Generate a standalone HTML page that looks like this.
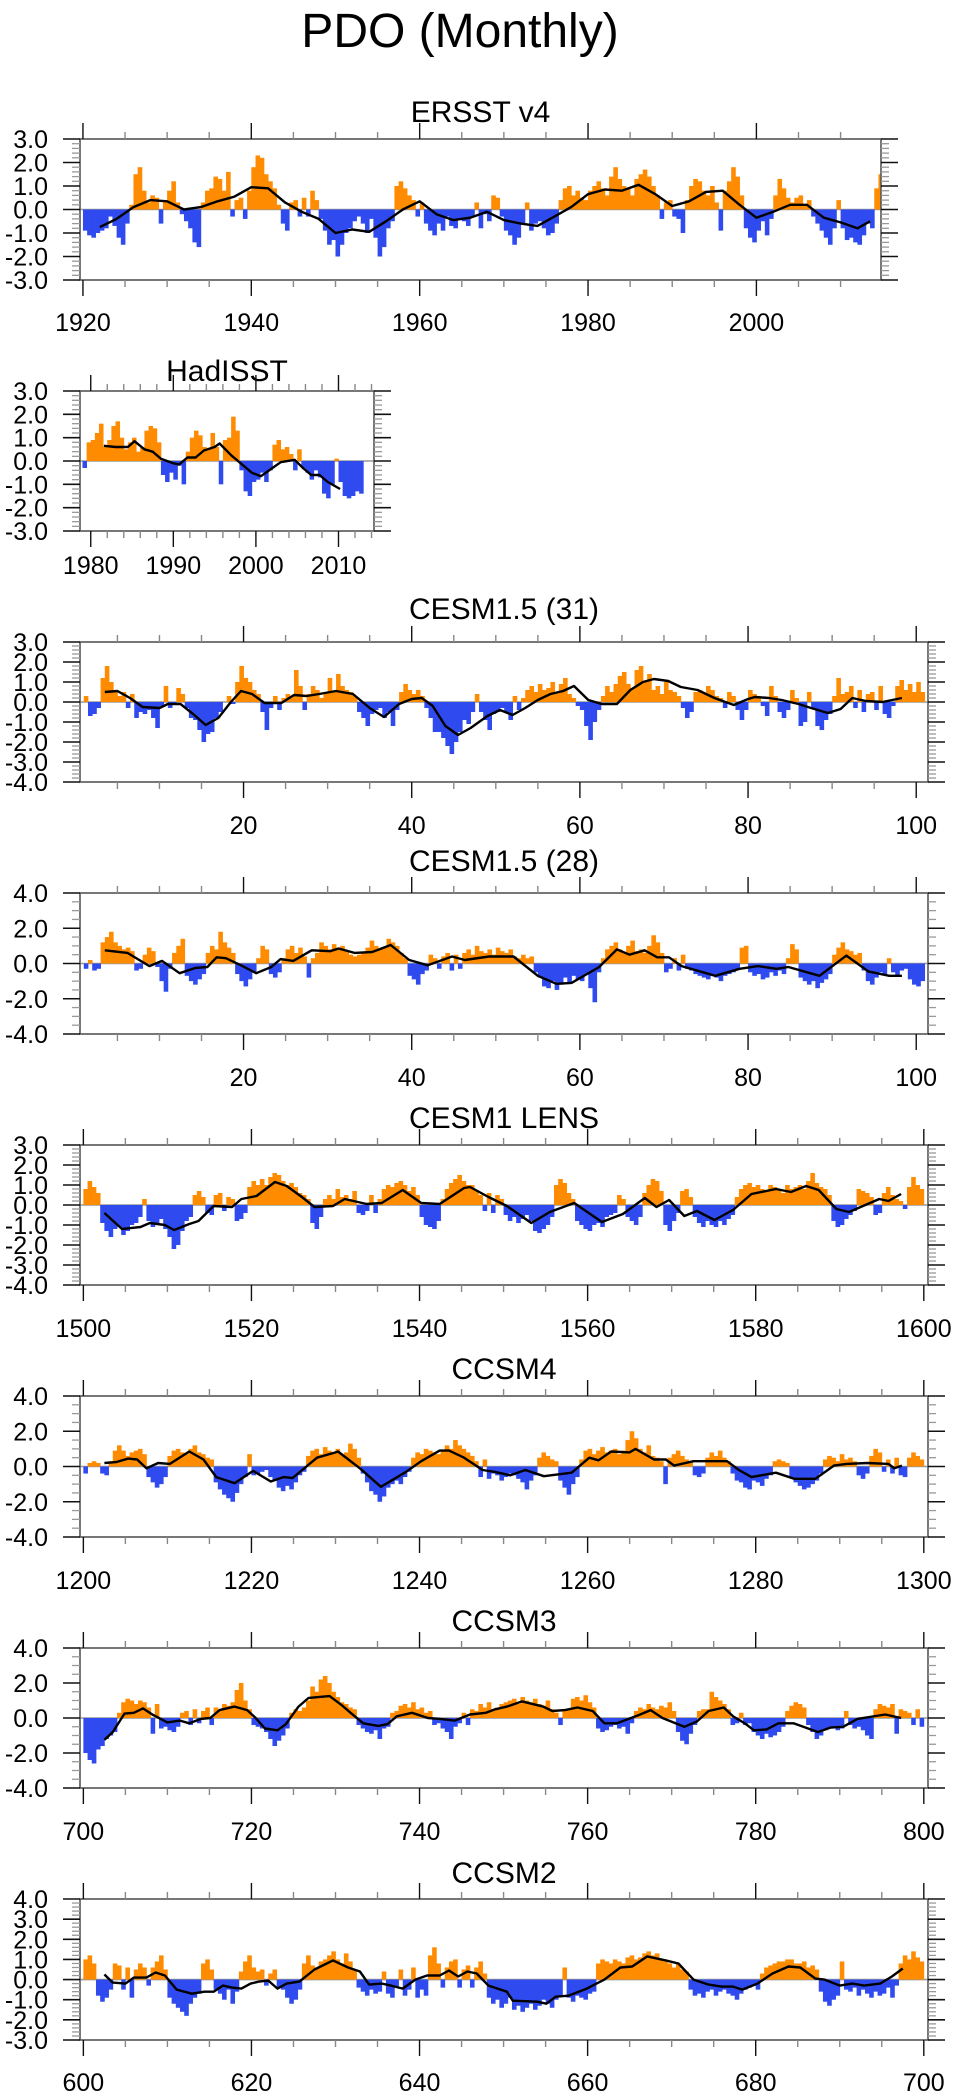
<!DOCTYPE html>
<html><head><meta charset="utf-8"><title>PDO (Monthly)</title>
<style>html,body{margin:0;padding:0;background:#fff;}svg{display:block;font-family:"Liberation Sans",Arial,sans-serif;}</style>
</head><body>
<svg id="chart" xmlns="http://www.w3.org/2000/svg" width="953" height="2099" viewBox="0 0 953 2099">
<rect x="0" y="0" width="953" height="2099" fill="#fff"/>
<text x="460" y="47" font-size="48" text-anchor="middle" fill="#000">PDO (Monthly)</text>
</svg>
<script>
// ---------- DATA (half-year values) ----------
const ersstStart = 1920;
const ersstVals = [-0.9,-1.1,-1.2,-1.0,-0.9,-0.8,-0.3,-0.7,-1.2,-1.5,-0.6,0.2,1.5,1.8,0.8,0.3,0.6,0.5,-0.6,0.4,0.8,1.2,0.3,-0.2,-0.5,-0.8,-1.4,-1.6,0.3,0.8,0.9,1.4,1.3,0.8,1.6,-0.3,0.4,0.5,-0.4,0.8,1.8,2.3,2.2,1.5,1.2,0.9,0.2,-0.6,-0.9,0.3,0.4,-0.3,0.5,-0.3,0.8,0.4,-0.4,-0.9,-1.5,-1.3,-2.0,-1.5,-1.0,-0.8,-0.5,-0.3,-0.6,-1.0,-0.4,-1.2,-2.0,-1.6,-0.8,-0.5,1.0,1.2,0.9,0.6,0.4,-0.3,0.3,-0.6,-0.9,-1.1,-0.6,-0.9,-0.3,-0.7,-0.8,-0.4,-0.5,-0.7,-0.3,0.3,-0.8,-0.2,-0.5,0.6,0.5,-0.3,-0.9,-1.1,-1.5,-1.2,-0.6,0.3,-0.9,-0.6,-0.5,-0.8,-1.1,-1.0,-0.6,0.4,0.9,1.0,0.6,0.8,0.5,0.4,0.8,1.0,1.2,0.9,0.6,1.4,1.8,1.3,1.0,0.9,0.6,1.3,1.5,1.7,1.4,1.0,0.6,-0.4,0.3,0.4,-0.3,-0.4,-1.0,0.4,1.0,1.3,1.2,0.8,0.6,1.0,0.3,-0.9,0.8,1.2,1.8,1.4,0.6,-0.8,-1.2,-1.4,-0.9,-0.5,-1.1,-0.4,0.6,1.3,0.9,0.5,0.3,0.5,0.6,0.2,0.4,-0.3,-0.6,-0.9,-1.2,-1.5,-0.8,0.4,-0.8,-1.3,-1.2,-1.4,-1.5,-1.1,-0.6,-0.8,0.9,1.5];
const ersstSmoothYears = [1922,1924,1926,1928,1930,1932,1934,1936,1938,1940,1942,1944,1946,1948,1950,1952,1954,1956,1958,1960,1962,1964,1966,1968,1970,1972,1974,1976,1978,1980,1982,1984,1986,1988,1990,1992,1994,1996,1998,2000,2002,2004,2006,2008,2010,2012,2013.5];
const ersstSmoothVals = [-0.75,-0.4,0.1,0.4,0.35,0.0,0.1,0.35,0.55,0.95,0.9,0.3,-0.1,-0.4,-1.0,-0.85,-0.95,-0.5,0.0,0.35,-0.2,-0.45,-0.35,-0.1,-0.45,-0.6,-0.7,-0.3,0.1,0.65,0.85,0.8,1.05,0.65,0.15,0.35,0.75,0.8,0.2,-0.35,-0.1,0.2,0.2,-0.35,-0.55,-0.8,-0.5];

const hadStart = 1979;
const hadVals = [-0.3,0.8,0.9,1.2,1.6,0.6,0.9,1.5,1.7,1.0,0.5,0.8,1.0,0.4,0.6,1.3,1.5,1.4,0.8,-0.6,-0.9,-0.5,-0.8,-0.2,-1.0,0.4,1.0,1.3,1.1,0.6,0.5,1.2,0.6,-1.0,0.9,1.0,1.9,1.3,-0.4,-1.3,-1.5,-0.9,-0.8,-0.5,-0.9,-0.4,0.7,0.9,0.5,0.6,0.3,-0.4,0.5,-0.3,-0.5,-0.8,-0.4,-0.7,-1.4,-1.6,-1.0,0.1,-0.9,-1.5,-1.6,-1.5,-1.3,-1.4];
const hadSmoothYears = [1981.6,1983,1984.5,1985.3,1986.5,1987.5,1988.5,1990,1990.7,1991.7,1992.7,1993.7,1995,1995.6,1997,1998.5,1999.5,2000.6,2002,2003,2004.7,2005.7,2006.7,2007.7,2008.7,2010.2];
const hadSmoothVals = [0.65,0.6,0.6,0.85,0.5,0.4,0.1,-0.1,-0.15,0.15,0.15,0.45,0.6,0.75,0.25,-0.2,-0.5,-0.65,-0.3,-0.05,0.05,-0.3,-0.6,-0.6,-0.9,-1.2];

const c31Start = 1;
const c31Vals = [0.3,-0.7,-0.6,-0.3,1.2,1.8,1.0,0.6,0.3,0.5,-0.3,0.4,-0.8,-0.5,-0.6,-0.4,-0.8,-1.3,-0.2,0.8,-0.3,-0.1,0.7,0.4,-0.3,-0.8,-0.9,-1.4,-2.0,-1.6,-1.5,-0.8,-0.5,0.0,0.3,-0.1,1.0,1.8,1.2,1.0,0.6,0.4,-0.5,-1.4,-0.3,0.3,-0.4,0.2,0.4,0.3,1.6,0.8,-0.4,0.4,0.8,0.6,0.2,0.5,1.2,0.5,1.4,0.8,0.6,0.5,0.3,-0.5,-0.8,-1.2,-0.6,-0.4,-0.3,-0.8,-0.5,-1.2,-0.4,0.5,0.9,0.6,0.4,0.6,0.3,-0.3,-0.8,-1.5,-1.5,-1.8,-2.2,-2.6,-2.0,-1.5,-0.9,-1.1,-0.5,0.4,-0.5,-0.9,-1.4,-0.6,-0.5,-0.3,-0.5,-0.9,0.3,-0.4,0.2,0.6,0.8,0.5,0.9,0.6,0.7,1.0,0.5,0.9,1.2,0.4,0.2,-0.2,-0.4,-1.2,-1.9,-1.0,-0.4,0.3,0.8,0.5,0.9,1.3,1.5,0.9,0.7,1.6,1.8,1.0,1.4,0.6,0.8,0.4,1.0,0.6,0.5,0.3,-0.3,-0.8,-0.5,0.5,0.6,0.4,0.8,0.6,0.3,0.2,-0.3,0.5,0.3,-0.4,-0.9,-0.4,0.6,0.4,0.3,-0.2,-0.7,0.8,0.3,-0.5,-0.8,-0.4,0.6,0.2,-1.2,-1.0,0.5,-0.3,-1.2,-1.4,-0.9,-0.6,0.3,1.2,0.4,0.5,0.8,-0.3,0.6,-0.5,0.4,0.5,-0.4,0.8,-0.6,-0.8,-0.2,0.8,1.1,0.6,0.9,0.5,1.0,0.5];
const c31SmoothYears = [3.5,5,6.5,8,10,11,12.5,14,15.5,17,18.5,19.7,21,22.5,24.5,26,27.5,29,31,33,35,36.7,38.5,40,41.2,42.5,44,45.5,47,49,50.5,52,53.5,55,56.5,58,59.3,61,62.6,64.4,66,67.5,68.8,70.5,72,74,76,78.3,80,80.8,82.5,84,86,87.5,89.5,91,92.4,94,96,98.3];
const c31SmoothVals = [0.5,0.55,0.2,-0.25,-0.3,-0.1,-0.1,-0.6,-1.15,-0.8,0.0,0.55,0.4,-0.05,-0.05,0.35,0.3,0.4,0.55,0.4,-0.3,-0.75,-0.1,0.15,0.2,-0.2,-1.2,-1.65,-1.3,-0.7,-0.4,-0.65,-0.3,0.1,0.4,0.55,0.8,0.1,-0.1,-0.1,0.6,1.0,1.15,1.05,0.75,0.6,0.2,-0.15,0.15,0.25,0.2,0.1,-0.1,-0.3,-0.55,-0.35,0.2,0.05,0.0,0.2];

const c28Start = 1;
const c28Vals = [-0.3,0.2,-0.4,-0.3,1.2,1.5,1.8,1.2,1.0,0.8,0.9,0.7,-0.4,-0.3,0.5,0.9,0.7,-0.2,-1.0,-1.6,-0.3,0.6,1.0,1.4,-0.7,-1.0,-1.2,-0.9,-0.6,0.6,1.0,0.8,1.8,1.2,0.9,0.6,-0.6,-1.0,-1.3,-0.9,-0.5,0.3,1.0,0.8,-0.6,-0.8,-0.5,0.3,0.8,1.0,0.6,0.9,0.4,-0.8,0.3,0.6,1.2,1.0,0.8,1.1,0.9,1.0,0.7,0.5,0.4,0.5,0.6,0.9,1.3,1.0,0.8,0.9,1.4,1.2,1.0,0.6,0.3,-0.7,-0.9,-1.2,-0.6,-0.4,0.5,0.3,-0.3,0.4,0.6,-0.4,0.5,-0.3,0.6,0.8,0.5,1.0,0.7,0.6,0.8,0.5,0.9,0.7,0.6,0.8,0.4,0.3,0.5,0.3,0.4,-0.5,-0.8,-1.3,-1.4,-1.0,-1.5,-1.2,-0.8,-1.1,-0.7,-0.9,-1.0,-0.6,-1.4,-2.2,-0.5,0.3,0.8,1.0,1.2,0.8,0.6,1.0,1.3,0.7,0.8,0.6,1.0,1.6,1.2,0.6,-0.5,-0.3,0.3,-0.4,0.5,-0.3,-0.4,-0.6,-0.7,-0.8,-0.9,-0.6,-0.8,-1.0,-0.7,-0.6,-0.5,-0.3,0.9,1.0,-0.5,-0.7,-0.6,-0.9,-0.8,-0.5,-0.7,-0.4,-0.6,0.3,1.1,0.8,-0.8,-1.0,-1.2,-1.0,-1.4,-1.1,-0.9,-0.6,0.5,0.9,1.2,0.8,0.7,0.5,0.6,-0.4,-1.0,-1.2,-0.8,-0.5,-0.6,0.3,-0.5,-0.7,-0.4,-0.3,-0.9,-1.2,-1.3,-1.0];
const c28SmoothYears = [3.5,6.2,8.8,10.3,12.4,14.3,15.7,16.8,17.9,19.7,21.5,23.3,24.4,25.9,28.1,30.3,31.3,33.2,35.3,37.5,39.7,41.9,44.8,46.3,49.2,52.1,55,57.2,59,62.3,64.4,65.9,67.7,69.2,70.6,72.1,76.1,79,81.2,83.4,84.8,88.5,91.7,94.3,96.8,98.3];
const c28SmoothVals = [0.75,0.6,-0.15,0.15,-0.55,-0.25,-0.2,0.35,0.3,-0.1,-0.55,-0.2,0.25,0.15,0.75,0.7,0.85,0.6,0.65,1.05,0.2,-0.1,0.4,0.2,0.4,0.4,-0.7,-1.15,-1.1,-0.2,0.8,0.5,0.75,0.35,0.35,-0.15,-0.7,-0.3,-0.15,-0.3,-0.2,-0.7,0.45,-0.45,-0.7,-0.7];

const lensStart = 1500;
const lensVals = [0.8,1.2,0.9,0.6,-0.9,-1.3,-1.6,-1.2,-1.1,-1.5,-1.3,-1.0,-0.9,-0.6,0.3,-0.8,-1.1,-0.9,-0.7,-1.2,-1.6,-2.2,-2.0,-1.3,-0.8,-0.6,0.5,0.7,0.4,-0.4,-0.5,0.5,0.6,-0.3,0.4,0.3,-0.8,-0.7,-0.4,0.9,1.2,1.0,1.3,1.0,1.4,1.6,1.5,1.2,1.0,1.1,0.9,0.6,0.5,0.3,-0.9,-1.2,-0.6,0.3,0.5,0.3,0.8,0.4,0.5,0.3,0.7,-0.4,-0.5,-0.3,0.5,-0.4,0.3,0.8,1.0,0.9,1.1,1.2,1.0,0.7,0.9,0.5,-0.6,-1.0,-1.1,-1.2,-0.8,0.3,0.8,1.1,1.3,1.5,1.2,1.0,1.0,0.7,0.5,-0.3,0.6,-0.4,0.5,0.3,-0.5,-0.8,-0.6,-0.9,-0.7,-0.5,-0.8,-1.3,-1.4,-1.2,-1.0,-0.6,1.0,1.3,1.1,0.6,0.3,-0.8,-1.0,-1.2,-1.3,-1.0,-0.9,-1.1,-0.6,-0.5,-0.4,0.5,0.3,-0.6,-0.8,-1.0,-0.6,0.6,1.0,1.3,1.2,0.7,-1.0,-1.3,-0.8,-0.4,0.7,0.8,0.4,-0.6,-0.9,-1.1,-0.8,-1.0,-1.1,-0.8,-1.0,-0.7,-0.5,0.4,0.8,1.0,1.1,0.9,1.0,0.8,0.7,1.0,0.9,0.8,0.6,1.0,0.8,0.9,1.0,0.8,1.2,1.6,1.1,0.9,0.8,0.5,-0.8,-1.1,-1.0,-0.7,-0.5,-0.3,0.8,0.7,0.6,0.4,-0.5,-0.4,0.6,0.9,0.5,0.3,0.2,-0.2,0.9,1.4,1.0,0.8];
const lensSmoothYears = [1502.5,1504.6,1506.8,1507.9,1509.7,1510.8,1512.6,1513.7,1515.5,1517.7,1518.8,1520.6,1522.8,1524.2,1526,1527.5,1529.7,1531.1,1533.7,1535.5,1538,1540.2,1542.4,1545.3,1546,1548.2,1550.4,1553.3,1555.5,1558.4,1561.7,1564.2,1566.8,1568.2,1569.7,1571.5,1573,1575.1,1577.3,1579.5,1582.4,1584.2,1586,1587.5,1589.6,1591.1,1594.7,1595.8,1597.3];
const lensSmoothVals = [-0.4,-1.2,-1.1,-0.9,-1.0,-1.25,-0.95,-0.8,-0.05,-0.1,0.3,0.45,1.15,0.95,0.4,-0.1,-0.05,0.3,0.05,0.1,0.75,0.1,0.05,0.85,0.9,0.4,-0.05,-0.9,-0.35,0.1,-0.85,-0.45,0.35,-0.1,0.25,-0.55,-0.3,-0.75,-0.25,0.55,0.8,0.65,0.95,0.75,-0.2,-0.35,0.3,0.2,0.55];

const ccsm4Start = 1200;
const ccsm4Vals = [-0.4,0.2,0.3,0.2,-0.4,-0.5,0.3,0.9,1.2,0.9,0.6,0.8,0.9,1.0,0.7,-0.6,-0.9,-1.2,-1.0,-0.6,0.6,0.9,1.0,0.8,0.7,1.0,1.2,0.8,0.7,0.5,0.4,-0.9,-1.3,-1.6,-1.8,-2.0,-1.5,-1.0,-0.6,0.7,-0.5,-0.4,-0.3,-0.2,-0.6,-0.8,-1.2,-1.4,-1.1,-1.3,-0.9,-0.5,-0.3,0.6,0.9,1.0,0.7,1.1,0.9,0.8,1.0,0.7,0.8,1.3,1.0,0.5,-0.4,-0.9,-1.4,-1.6,-2.0,-1.7,-1.2,-1.0,-0.8,-1.0,-0.6,-0.3,0.5,0.8,0.7,1.0,0.9,0.8,0.7,0.9,1.2,1.0,1.5,1.2,1.0,0.8,0.6,0.3,-0.6,0.4,-0.7,-0.4,-0.5,-0.8,-0.6,-0.4,-0.5,-0.7,-0.9,-1.3,-0.8,-0.5,0.5,0.8,0.6,0.4,0.3,-0.8,-1.2,-1.6,-1.0,-0.6,0.4,0.9,1.0,0.7,0.9,1.1,0.8,0.9,1.0,0.7,0.9,1.5,2.0,1.6,1.0,0.8,1.2,0.6,0.5,0.3,-1.0,0.5,0.7,0.9,0.6,0.4,0.3,-0.5,-0.6,-0.4,0.5,0.8,0.6,0.9,0.5,0.3,-0.4,-0.8,-0.9,-1.2,-1.3,-0.8,-0.9,-1.1,-0.7,-0.5,0.3,0.4,0.3,0.2,-0.6,-0.9,-1.1,-1.3,-1.2,-1.0,-0.8,-0.4,0.4,0.6,0.5,0.3,0.7,0.4,0.5,0.3,-0.5,-0.7,-0.4,0.6,1.0,0.8,-0.3,0.4,-0.4,0.5,-0.5,-0.6,0.5,0.8,0.6,0.4];
const ccsm4SmoothYears = [1202.5,1203.9,1205.3,1206.4,1207.5,1208.9,1210.3,1212.6,1214.3,1215.8,1218,1220.2,1222.3,1223.8,1224.9,1227.8,1230,1230.3,1232.9,1235.4,1238.4,1240.2,1242.4,1243.5,1245.3,1247.5,1248.9,1250.8,1252.6,1254.8,1258.1,1260.2,1261.3,1262.8,1265,1265.7,1267.9,1269.3,1270.3,1272.6,1275.1,1276.6,1278,1279.5,1282.4,1284.6,1287.1,1289.3,1290.8,1293.3,1295.8,1296.5,1297.4];
const ccsm4SmoothVals = [0.2,0.25,0.45,0.4,-0.1,0.2,0.15,0.85,0.4,-0.6,-0.95,-0.25,-0.85,-0.6,-0.65,0.5,0.8,0.85,-0.1,-1.15,-0.3,0.3,0.9,0.9,0.5,-0.2,-0.3,-0.5,-0.2,-0.55,-0.35,0.5,0.35,0.85,0.8,1.0,0.4,0.4,0.05,0.3,0.3,0.3,-0.2,-0.6,-0.35,-0.7,-0.7,0.05,0.15,0.2,0.15,-0.1,0.05];

const ccsm3Start = 700;
const ccsm3Vals = [-2.0,-2.4,-2.6,-1.8,-1.6,-1.2,-1.0,-0.8,0.3,0.9,1.1,1.0,0.8,1.0,0.9,0.6,-0.9,0.8,-0.6,-0.5,-0.7,-0.8,-0.5,0.3,0.4,-0.4,0.5,-0.3,0.4,0.6,-0.4,0.6,0.5,0.8,0.7,0.9,1.6,2.0,1.0,0.5,-0.4,-0.5,-0.6,-0.8,-1.2,-1.6,-1.3,-1.0,-0.6,0.3,0.5,0.4,0.6,1.0,1.8,1.5,2.2,2.4,2.0,1.5,1.2,0.9,0.8,0.6,0.5,-0.4,-0.6,-0.8,-0.9,-0.7,-1.2,-0.6,-0.5,0.3,0.4,0.7,0.8,0.6,0.9,0.5,0.6,0.3,0.4,-0.4,-0.3,-0.6,-0.8,-1.2,-0.5,-0.3,0.3,-0.4,0.5,0.4,0.8,0.6,0.9,0.5,0.6,0.8,0.9,1.0,1.1,0.8,1.2,1.0,0.9,1.1,0.8,0.7,1.0,0.5,0.3,-0.4,0.4,0.5,1.1,1.2,1.0,1.3,0.9,0.6,-0.6,-0.8,-0.7,-0.5,-0.4,-0.6,-0.5,-0.9,-0.3,0.4,0.6,0.5,0.8,0.6,0.5,0.7,0.6,0.9,0.4,-0.8,-1.3,-1.5,-0.9,-0.4,0.4,0.5,0.5,1.5,1.2,1.0,0.8,0.5,-0.4,-0.3,0.3,-0.4,-0.3,-0.8,-1.0,-1.2,-0.9,-1.1,-1.0,-0.8,-0.5,0.4,0.7,0.9,0.8,0.6,-0.4,-0.8,-1.2,-1.0,-0.7,-0.6,-0.5,-0.7,-0.6,0.4,-0.4,-0.6,-0.5,-0.7,-1.0,-1.2,0.5,0.8,0.7,0.6,0.8,-0.9,0.5,0.4,0.3,-0.4,0.5,-0.5];
const ccsm3SmoothYears = [702.5,703.5,704.9,706,707.1,708.2,710,711.5,712.6,714,715.1,716.2,718,719.5,720.5,721.6,723.1,724.1,725.6,726.8,729.3,730.7,731.8,733.3,735.1,736.2,737.3,739.1,741,742.4,744.2,746,747.9,749,750.4,752.2,754.7,755.8,757.3,758.8,760.6,762,763.5,766,767.5,768.9,771.5,773,774.4,776.2,777.3,778.7,779.8,781.3,782.7,784.5,787.4,788.9,790.4,792.1,795.4,797.3];
const ccsm3SmoothVals = [-1.25,-0.8,0.25,0.3,0.55,0.2,-0.25,-0.15,-0.3,-0.05,0.0,0.45,0.65,0.45,0.0,-0.6,-0.7,-0.35,0.65,1.15,1.25,0.75,0.3,-0.3,-0.45,-0.35,0.1,0.3,0.0,-0.05,-0.15,0.2,0.3,0.5,0.65,0.95,0.65,0.4,0.45,0.6,0.4,-0.3,-0.3,0.15,0.45,0.0,-0.5,-0.2,0.4,0.6,0.1,-0.3,-0.7,-0.65,-0.3,-0.3,-0.8,-0.55,-0.5,-0.05,0.2,0.0];

const ccsm2Start = 600;
const ccsm2Vals = [1.0,1.2,0.8,-0.8,-1.1,-0.9,-0.5,0.8,0.7,-0.5,0.6,-0.9,0.5,0.8,0.6,-0.3,0.6,0.9,1.2,0.5,-0.9,-1.2,-1.4,-1.6,-1.8,-1.2,-0.9,-0.7,0.8,1.0,0.5,-0.5,-0.7,-1.0,-0.5,-1.2,-0.6,0.4,0.9,1.2,0.6,0.4,0.5,-0.3,0.3,0.5,-0.4,-0.5,-0.9,-1.2,-1.0,-0.5,0.8,1.2,0.7,0.6,0.9,1.0,1.2,1.4,1.0,0.8,1.3,0.9,0.5,-0.4,-0.6,-0.8,-0.5,-0.7,-0.6,0.4,-0.7,-0.9,-0.4,0.5,-0.8,-0.5,0.6,-0.9,-0.5,-0.8,1.2,1.6,0.8,-0.4,0.6,0.9,1.0,-0.4,0.5,0.7,-0.4,0.6,0.9,0.3,-0.9,-1.2,-1.0,-1.4,-1.2,-0.9,-1.5,-1.3,-1.6,-1.4,-1.2,-1.5,-1.3,-1.0,-1.2,-1.4,-1.0,-0.8,0.6,-0.9,-1.1,-0.8,-0.9,-1.0,-0.7,-0.6,0.8,1.0,0.9,0.8,1.0,0.9,0.8,1.1,1.2,1.0,1.1,1.3,1.4,1.2,1.3,1.0,0.9,0.8,0.6,0.8,0.5,0.4,-0.5,-0.8,-0.7,-0.9,-0.6,-0.5,-0.8,-0.6,-0.5,-0.7,-0.8,-1.0,-0.7,-0.5,-0.4,-0.3,-0.5,0.3,0.6,0.7,0.8,0.9,0.9,1.0,1.0,0.8,0.8,0.9,0.6,0.7,0.5,-0.6,-1.1,-1.3,-1.0,-0.8,0.9,-0.5,-0.6,-0.4,-0.8,-0.5,-0.7,-0.9,-0.6,-0.8,-0.7,-0.4,-0.9,-0.3,0.8,1.2,1.0,1.4,1.1,0.9];
const ccsm2SmoothYears = [602.5,603.5,605,606,607.5,608.6,609.7,611.1,612.9,614.4,615.5,616.6,617.7,618.8,619.9,620.9,622,623.1,624.2,625.7,627.5,629.7,631.5,632.9,634,635.5,636.6,638,639.5,640.9,642.4,643.5,644.6,645.7,646.8,648.2,650.4,651.1,654,655.1,656.2,657.7,659.9,662,663.9,665.3,667.1,669.3,670.8,672.6,674.4,675.9,677.3,678.4,680.2,682,683.9,685.3,687.1,688.2,690,691.5,692.9,694.8,696.2,697.5];
const ccsm2SmoothVals = [0.25,-0.15,-0.2,0.1,0.1,0.35,0.2,-0.5,-0.7,-0.6,-0.6,-0.3,-0.4,-0.45,-0.2,-0.1,-0.05,-0.45,-0.2,-0.1,0.5,0.95,0.6,0.4,-0.25,-0.2,-0.3,-0.45,0.0,0.2,0.2,0.45,0.15,0.4,0.3,-0.3,-0.6,-1.05,-1.1,-1.2,-0.85,-0.8,-0.45,0.0,0.6,0.65,1.15,0.95,0.8,0.0,-0.25,-0.35,-0.35,-0.5,-0.2,0.3,0.65,0.6,0.05,0.0,-0.3,-0.2,-0.3,-0.2,0.15,0.55];

// ---------- LAYOUT ----------
const panels = [
 {key:'ersst', title:'ERSST v4', titleY:122, x0:80,x1:881,y0:139,y1:280, xmin:1919.65,xmax:2014.8, ymin:-3,ymax:3, yMajor:1,yMinor:0.2, xMajor:20,xMinor:5, labY:331, start:ersstStart, vals:ersstVals, sy:ersstSmoothYears, sv:ersstSmoothVals},
 {key:'hadisst', title:'HadISST', titleY:381, x0:80,x1:374,y0:391,y1:531, xmin:1978.7,xmax:2014.3, ymin:-3,ymax:3, yMajor:1,yMinor:0.2, xMajor:10,xMinor:2, labY:574, start:hadStart, vals:hadVals, sy:hadSmoothYears, sv:hadSmoothVals},
 {key:'cesm15-31', title:'CESM1.5 (31)', titleY:619, x0:80,x1:928,y0:642,y1:782, xmin:0.55,xmax:101.4, ymin:-4,ymax:3, yMajor:1,yMinor:0.2, xMajor:20,xMinor:5, labY:834, start:c31Start, vals:c31Vals, sy:c31SmoothYears, sv:c31SmoothVals},
 {key:'cesm15-28', title:'CESM1.5 (28)', titleY:871, x0:80,x1:928,y0:893,y1:1034, xmin:0.55,xmax:101.4, ymin:-4,ymax:4, yMajor:2,yMinor:0.5, xMajor:20,xMinor:5, labY:1086, start:c28Start, vals:c28Vals, sy:c28SmoothYears, sv:c28SmoothVals},
 {key:'cesm1-lens', title:'CESM1 LENS', titleY:1128, x0:80,x1:928,y0:1145,y1:1285, xmin:1499.6,xmax:1600.5, ymin:-4,ymax:3, yMajor:1,yMinor:0.2, xMajor:20,xMinor:5, labY:1337, start:lensStart, vals:lensVals, sy:lensSmoothYears, sv:lensSmoothVals},
 {key:'ccsm4', title:'CCSM4', titleY:1379, x0:80,x1:928,y0:1396,y1:1537, xmin:1199.6,xmax:1300.5, ymin:-4,ymax:4, yMajor:2,yMinor:0.5, xMajor:20,xMinor:5, labY:1589, start:ccsm4Start, vals:ccsm4Vals, sy:ccsm4SmoothYears, sv:ccsm4SmoothVals},
 {key:'ccsm3', title:'CCSM3', titleY:1631, x0:80,x1:928,y0:1648,y1:1788, xmin:699.6,xmax:800.5, ymin:-4,ymax:4, yMajor:2,yMinor:0.5, xMajor:20,xMinor:5, labY:1840, start:ccsm3Start, vals:ccsm3Vals, sy:ccsm3SmoothYears, sv:ccsm3SmoothVals},
 {key:'ccsm2', title:'CCSM2', titleY:1883, x0:80,x1:928,y0:1899,y1:2040, xmin:599.6,xmax:700.5, ymin:-3,ymax:4, yMajor:1,yMinor:0.2, xMajor:20,xMinor:5, labY:2091, start:ccsm2Start, vals:ccsm2Vals, sy:ccsm2SmoothYears, sv:ccsm2SmoothVals}
];

const NS = 'http://www.w3.org/2000/svg';
const svg = document.getElementById('chart');
function mk(tag, attrs, parent){ const e=document.createElementNS(NS,tag); for(const k in attrs) e.setAttribute(k,attrs[k]); (parent||svg).appendChild(e); return e; }
const ORANGE='#ff8c00', BLUE='#2f4bef';
const TICKFONT = 25;

panels.forEach(function(p){
  const X = function(v){ return p.x0 + (v - p.xmin) / (p.xmax - p.xmin) * (p.x1 - p.x0); };
  const Y = function(v){ return p.y1 - (v - p.ymin) / (p.ymax - p.ymin) * (p.y1 - p.y0); };
  const g = mk('g', {});
  
  

  const cid = 'clip-' + p.key;
  const defs = mk('defs', {}, g);
  const cp = mk('clipPath', {id: cid}, defs);
  mk('rect', {x:p.x0, y:p.y0, width:p.x1-p.x0, height:p.y1-p.y0}, cp);

  const title = mk('text', {x:(p.x0+p.x1)/2, y:p.titleY, 'font-size':30, 'text-anchor':'middle', fill:'#000'}, g);
  title.textContent = p.title;
  
  

  const plot = mk('g', {'clip-path':'url(#' + cid + ')'}, g);
  
  

  const zl = mk('line', {x1:p.x0, x2:p.x1, y1:Y(0), y2:Y(0), stroke:'#999', 'stroke-width':1.6}, plot);
  
  

  p.vals.forEach(function(v, i){
    const t = p.start + i * 0.5;
    const xa = X(t), xb = X(t + 0.5);
    const ya = Y(0), yb = Y(v);
    const r = mk('rect', {x:xa, y:Math.min(ya,yb), width:(xb-xa)+0.4, height:Math.abs(yb-ya), fill: v >= 0 ? ORANGE : BLUE}, plot);
    
    
  });

  const pts = p.sy.map(function(t, i){ return X(t).toFixed(1) + ',' + Y(p.sv[i]).toFixed(1); }).join(' ');
  const ln = mk('polyline', {points:pts, fill:'none', stroke:'#000', 'stroke-width':2.4, 'stroke-linejoin':'round'}, plot);
  
  

  const bx = mk('rect', {x:p.x0, y:p.y0, width:p.x1-p.x0, height:p.y1-p.y0, fill:'none', stroke:'#555', 'stroke-width':1.6}, g);
  
  

  const nMinor = Math.round((p.ymax - p.ymin) / p.yMinor);
  for (let k = 0; k <= nMinor; k++) {
    const v = p.ymin + k * p.yMinor;
    const isMajor = Math.abs(v / p.yMajor - Math.round(v / p.yMajor)) < 1e-6;
    const len = isMajor ? 17 : 8;
    const yy = Y(v);
    const tl = mk('line', {x1:p.x0-len, x2:p.x0, y1:yy, y2:yy, stroke: isMajor ? '#111' : '#999', 'stroke-width': isMajor ? 1.6 : 1.3}, g);
    
    
    const tr = mk('line', {x1:p.x1, x2:p.x1+len, y1:yy, y2:yy, stroke: isMajor ? '#111' : '#999', 'stroke-width': isMajor ? 1.6 : 1.3}, g);
    
    
    if (isMajor) {
      const lb = mk('text', {x:48, y:yy+9, 'font-size':TICKFONT, 'text-anchor':'end', fill:'#000'}, g);
      lb.textContent = (Math.abs(v) < 1e-9 ? 0 : v).toFixed(1);
      
      
    }
  }

  const firstMinor = Math.ceil(p.xmin / p.xMinor) * p.xMinor;
  for (let v = firstMinor; v <= p.xmax + 1e-6; v += p.xMinor) {
    const isMajor = Math.abs(v / p.xMajor - Math.round(v / p.xMajor)) < 1e-6;
    const len = isMajor ? 16 : 7;
    const xx = X(v);
    const tt = mk('line', {x1:xx, x2:xx, y1:p.y0-len, y2:p.y0, stroke: isMajor ? '#111' : '#888', 'stroke-width':1.4}, g);
    
    
    const tb = mk('line', {x1:xx, x2:xx, y1:p.y1, y2:p.y1+len, stroke: isMajor ? '#111' : '#888', 'stroke-width':1.4}, g);
    
    
    if (isMajor) {
      const lb = mk('text', {x:xx, y:p.labY, 'font-size':TICKFONT, 'text-anchor':'middle', fill:'#000'}, g);
      lb.textContent = String(Math.round(v));
      
      
    }
  }
});
</script>
</body></html>
